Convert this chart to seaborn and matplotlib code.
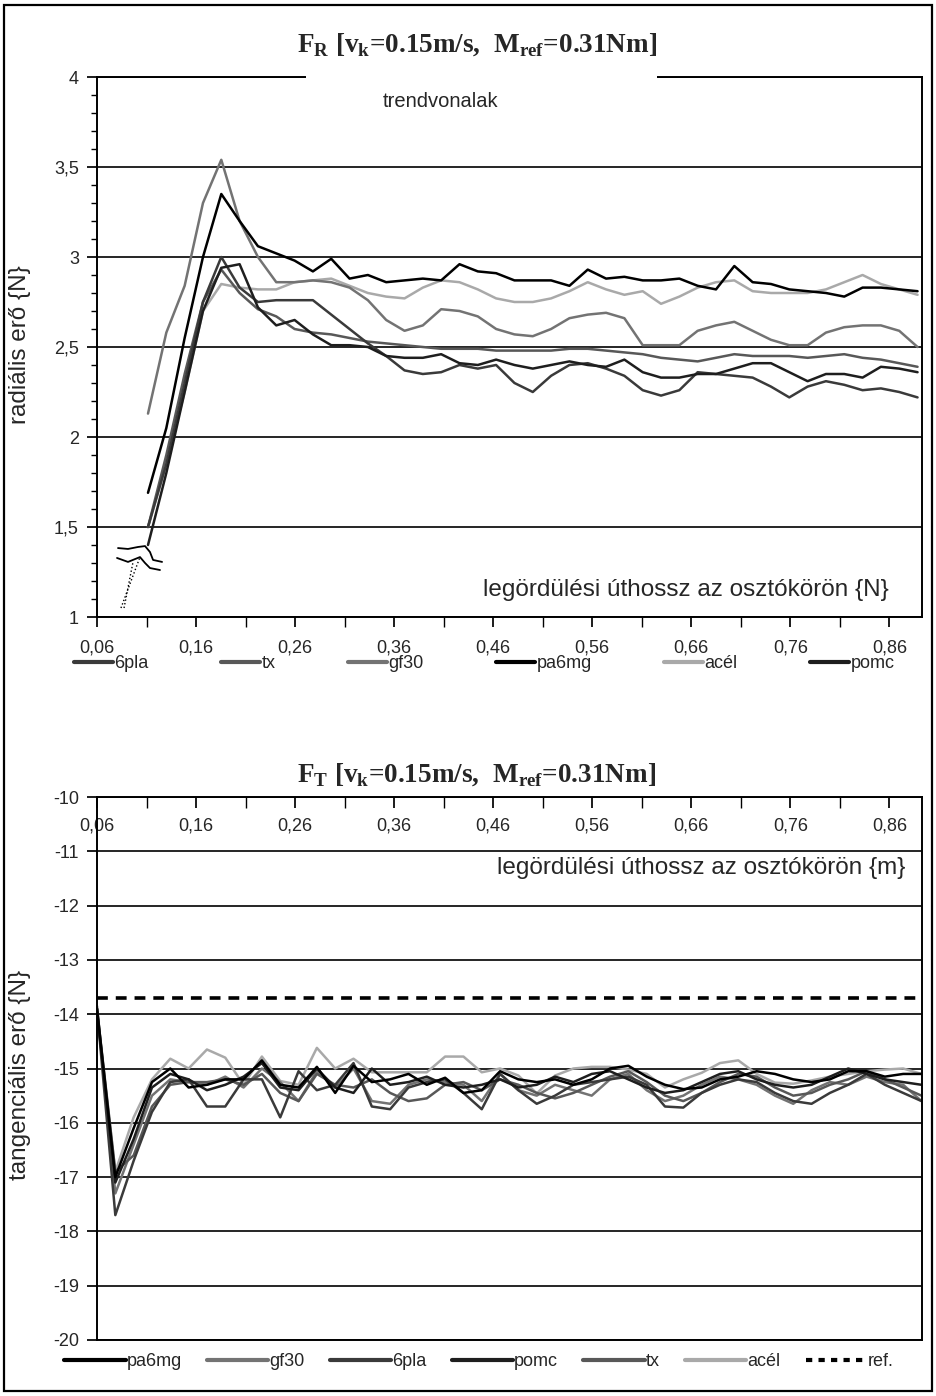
import numpy as np
import pandas as pd
import matplotlib
matplotlib.use("Agg")
import matplotlib.pyplot as plt
import seaborn as sns
from matplotlib.lines import Line2D
from matplotlib.patches import Rectangle
from matplotlib.ticker import MultipleLocator, FixedLocator, FuncFormatter

# x positions (rolling path on pitch circle), upper and lower chart
x_top = np.linspace(0.1115, 0.8885, 43)
x_bot = np.linspace(0.06, 0.8925, 46)

# F_R radial force {N}
fr_6pla = [1.5, 1.85, 2.3, 2.75, 3.0, 2.83, 2.75, 2.76, 2.76, 2.76,
           2.68, 2.6, 2.52, 2.45, 2.37, 2.35, 2.36, 2.4, 2.38, 2.4,
           2.3, 2.25, 2.34, 2.4, 2.41, 2.38, 2.34, 2.26, 2.23, 2.26,
           2.36, 2.35, 2.34, 2.33, 2.28, 2.22, 2.28, 2.31, 2.29, 2.26,
           2.27, 2.25, 2.22]
fr_tx = [1.5, 1.9, 2.35, 2.75, 2.93, 2.8, 2.71, 2.67, 2.6, 2.58,
         2.57, 2.55, 2.53, 2.52, 2.51, 2.5, 2.49, 2.49, 2.49, 2.48,
         2.48, 2.48, 2.48, 2.49, 2.49, 2.48, 2.47, 2.46, 2.44, 2.43,
         2.42, 2.44, 2.46, 2.45, 2.45, 2.45, 2.44, 2.45, 2.46, 2.44,
         2.43, 2.41, 2.39]
fr_gf30 = [2.13, 2.58, 2.84, 3.3, 3.54, 3.2, 3.0, 2.86, 2.86, 2.87,
           2.86, 2.83, 2.76, 2.65, 2.59, 2.62, 2.71, 2.7, 2.67, 2.6,
           2.57, 2.56, 2.6, 2.66, 2.68, 2.69, 2.66, 2.51, 2.51, 2.51,
           2.59, 2.62, 2.64, 2.59, 2.54, 2.51, 2.51, 2.58, 2.61, 2.62,
           2.62, 2.59, 2.5]
fr_pa6mg = [1.69, 2.05, 2.55, 3.0, 3.35, 3.2, 3.06, 3.02, 2.98, 2.92,
            2.99, 2.88, 2.9, 2.86, 2.87, 2.88, 2.87, 2.96, 2.92, 2.91,
            2.87, 2.87, 2.87, 2.84, 2.93, 2.88, 2.89, 2.87, 2.87, 2.88,
            2.84, 2.82, 2.95, 2.86, 2.85, 2.82, 2.81, 2.8, 2.78, 2.83,
            2.83, 2.82, 2.81]
fr_acel = [1.5, 1.85, 2.25, 2.7, 2.85, 2.83, 2.82, 2.82, 2.86, 2.87,
           2.88, 2.84, 2.8, 2.78, 2.77, 2.83, 2.87, 2.86, 2.82, 2.77,
           2.75, 2.75, 2.77, 2.81, 2.86, 2.82, 2.79, 2.81, 2.74, 2.78,
           2.83, 2.86, 2.87, 2.81, 2.8, 2.8, 2.8, 2.82, 2.86, 2.9,
           2.85, 2.82, 2.79]
fr_pomc = [1.4, 1.8, 2.25, 2.7, 2.94, 2.96, 2.72, 2.62, 2.65, 2.57,
           2.51, 2.51, 2.5, 2.45, 2.44, 2.44, 2.46, 2.41, 2.4, 2.43,
           2.4, 2.38, 2.4, 2.42, 2.4, 2.39, 2.43, 2.36, 2.33, 2.33,
           2.35, 2.35, 2.38, 2.41, 2.41, 2.36, 2.31, 2.35, 2.35, 2.33,
           2.39, 2.38, 2.36]

# F_T tangential force {N}
ft_pa6mg = [-13.9, -17.0, -16.1, -15.25, -15.0, -15.35, -15.3, -15.2, -15.2, -14.85,
            -15.3, -15.35, -14.97, -15.45, -14.95, -15.25, -15.2, -15.1, -15.3, -15.17,
            -15.45, -15.4, -15.05, -15.2, -15.25, -15.2, -15.3, -15.2, -15.0, -14.95,
            -15.15, -15.3, -15.38, -15.35, -15.2, -15.15, -15.05, -15.1, -15.2, -15.25,
            -15.2, -15.05, -15.05, -15.15, -15.1, -15.1]
ft_gf30 = [-13.85, -17.3, -16.4, -15.5, -15.2, -15.25, -15.3, -15.15, -15.35, -15.0,
           -15.25, -15.6, -15.05, -15.35, -15.0, -15.6, -15.65, -15.3, -15.2, -15.25,
           -15.3, -15.6, -15.1, -15.4, -15.5, -15.3, -15.4, -15.5, -15.2, -15.1,
           -15.4, -15.6, -15.5, -15.3, -15.15, -15.2, -15.3, -15.5, -15.65, -15.4,
           -15.25, -15.3, -15.15, -15.25, -15.3, -15.6]
ft_6pla = [-13.9, -17.7, -16.7, -15.8, -15.25, -15.2, -15.7, -15.7, -15.2, -15.2,
           -15.9, -15.05, -15.4, -15.3, -14.9, -15.7, -15.75, -15.35, -15.25, -15.2,
           -15.45, -15.75, -15.1, -15.4, -15.65, -15.5, -15.3, -15.25, -15.2, -15.15,
           -15.3, -15.7, -15.72, -15.45, -15.3, -15.2, -15.25, -15.45, -15.6, -15.65,
           -15.45, -15.3, -15.1, -15.3, -15.45, -15.6]
ft_pomc = [-13.95, -17.1, -16.3, -15.35, -15.1, -15.2, -15.4, -15.3, -15.15, -14.9,
           -15.35, -15.4, -15.0, -15.35, -15.45, -15.0, -15.3, -15.25, -15.15, -15.3,
           -15.35, -15.3, -15.2, -15.35, -15.3, -15.15, -15.25, -15.1, -15.05, -15.2,
           -15.35, -15.45, -15.4, -15.25, -15.1, -15.05, -15.2, -15.3, -15.35, -15.3,
           -15.15, -15.0, -15.1, -15.2, -15.25, -15.3]
ft_tx = [-13.9, -16.9, -16.6, -15.7, -15.3, -15.25, -15.25, -15.2, -15.3, -15.1,
         -15.45, -15.6, -15.1, -15.3, -15.35, -15.2, -15.45, -15.6, -15.55, -15.3,
         -15.25, -15.4, -15.2, -15.3, -15.45, -15.55, -15.45, -15.3, -15.15, -15.05,
         -15.25, -15.5, -15.6, -15.45, -15.25, -15.1, -15.15, -15.35, -15.5, -15.45,
         -15.3, -15.2, -15.05, -15.2, -15.35, -15.5]
ft_acel = [-13.95, -16.9, -15.9, -15.2, -14.82, -15.0, -14.65, -14.8, -15.3, -14.78,
           -15.23, -15.3, -14.62, -15.0, -14.82, -15.07, -15.07, -15.07, -15.07, -14.78,
           -14.78, -15.07, -15.0, -15.13, -15.46, -15.13, -15.0, -14.97, -14.97, -15.02,
           -15.1, -15.35, -15.2, -15.08, -14.9, -14.85, -15.1, -15.26, -15.28, -15.22,
           -15.15, -15.1, -15.05, -15.02, -15.0, -15.1]
ft_ref = -13.7

x_ticks = [0.06, 0.16, 0.26, 0.36, 0.46, 0.56, 0.66, 0.76, 0.86]

colors = {"6pla": "#3a3a3a", "tx": "#585858", "gf30": "#737373",
          "pa6mg": "#000000", "acél": "#a9a9a9", "pomc": "#1e1e1e"}
draw_order = ["acél", "gf30", "tx", "6pla", "pomc", "pa6mg"]

top_series = {"6pla": fr_6pla, "tx": fr_tx, "gf30": fr_gf30,
              "pa6mg": fr_pa6mg, "acél": fr_acel, "pomc": fr_pomc}
bot_series = {"pa6mg": ft_pa6mg, "gf30": ft_gf30, "6pla": ft_6pla,
              "pomc": ft_pomc, "tx": ft_tx, "acél": ft_acel}

df_top = pd.concat([pd.DataFrame({"x": x_top, "y": v, "anyag": k}) for k, v in top_series.items()])
df_bot = pd.concat([pd.DataFrame({"x": x_bot, "y": v, "anyag": k}) for k, v in bot_series.items()])

sns.set_theme(style="white")
plt.rcParams["font.family"] = ["Liberation Sans", "DejaVu Sans"]
plt.rcParams["mathtext.fontset"] = "custom"
plt.rcParams["mathtext.rm"] = "Liberation Serif"
plt.rcParams["mathtext.bf"] = "Liberation Serif:bold"
tickfont = ["Liberation Sans", "DejaVu Sans"]
serif = ["Liberation Serif", "DejaVu Serif"]

fig = plt.figure(figsize=(9.37, 13.96), dpi=100)
W, H = 937, 1396

comma2 = FuncFormatter(lambda v, p: f"{v:.2f}".replace(".", ","))
comma1 = FuncFormatter(lambda v, p: f"{v:g}".replace(".", ","))

# ---------------- upper chart: F_R ----------------
ax1 = fig.add_axes([97 / W, 1 - 617 / H, 825 / W, 540 / H])
sns.lineplot(data=df_top, x="x", y="y", hue="anyag", hue_order=draw_order,
             palette=colors, linewidth=1.8, legend=False, estimator=None,
             sort=False, ax=ax1)
ax1.set_xlim(0.06, 0.893)
ax1.set_ylim(1, 4)
ax1.set_xlabel("")
ax1.set_ylabel("")
ax1.yaxis.set_major_locator(MultipleLocator(0.5))
ax1.yaxis.set_minor_locator(MultipleLocator(0.1))
ax1.yaxis.set_major_formatter(comma1)
ax1.xaxis.set_major_locator(FixedLocator(x_ticks))
ax1.xaxis.set_minor_locator(FixedLocator([t + 0.05 for t in x_ticks[:-1]]))
ax1.xaxis.set_major_formatter(comma2)
ax1.tick_params(axis="both", which="both", direction="out", color="black")
ax1.tick_params(axis="x", which="both", length=7, pad=9, bottom=True)
ax1.tick_params(axis="y", which="major", length=7, pad=6, left=True)
ax1.tick_params(axis="y", which="minor", length=4, left=True)
for lab in ax1.get_xticklabels() + ax1.get_yticklabels():
    lab.set_family(tickfont)
    lab.set_fontsize(13)
ax1.grid(axis="y", which="major", color="black", linewidth=1.2)
for s in ax1.spines.values():
    s.set_color("black")
    s.set_linewidth(1.4)
# white gap in the top frame behind the title
ax1.add_patch(Rectangle((0.253, 0.985), 0.426, 0.04, transform=ax1.transAxes,
                        facecolor="white", edgecolor="none", zorder=5, clip_on=False))
ax1.text(0.417, 0.972, "trendvonalak", transform=ax1.transAxes, ha="center",
         va="top", fontsize=14.5, zorder=6)
ax1.text(0.96, 0.05, "legördülési úthossz az osztókörön {N}", transform=ax1.transAxes,
         ha="right", va="center", fontsize=17.5)

# axis break mark near the start of the curves
brk_x1 = [0.0812, 0.0913, 0.1014, 0.1085, 0.1135, 0.1166, 0.1257]
brk_y1 = [1.383, 1.378, 1.389, 1.394, 1.361, 1.317, 1.306]
brk_x2 = [0.0802, 0.0913, 0.1034, 0.1085, 0.1135, 0.1236]
brk_y2 = [1.328, 1.306, 1.333, 1.300, 1.272, 1.261]
ax1.plot(brk_x1, brk_y1, color="black", lw=1.3)
ax1.plot(brk_x2, brk_y2, color="black", lw=1.3)
ax1.plot([0.0842, 0.1034], [1.05, 1.333], color="black", lw=1, ls=":")
ax1.plot([0.0873, 0.0964], [1.05, 1.306], color="black", lw=1, ls=":")

fig.text(20 / W, 1 - 345 / H, "radiális erő {N}", rotation=90, ha="center",
         va="center", fontsize=17.5)
fig.text(477 / W, 1 - 45 / H,
         r"F$_\mathbf{R}$ [v$_\mathbf{k}$=0.15m/s,  M$_\mathbf{ref}$=0.31Nm]",
         ha="center", va="center", fontsize=19.5, family=serif, weight="bold")

top_legend = ["6pla", "tx", "gf30", "pa6mg", "acél", "pomc"]
h1 = [Line2D([], [], color=colors[n], lw=3) for n in top_legend]
fig.legend(h1, top_legend, loc="center", bbox_to_anchor=(484 / W, 1 - 664 / H),
           ncol=6, frameon=False, handlelength=2.2, handletextpad=0.05,
           columnspacing=4.0, prop={"family": tickfont, "size": 13})

# ---------------- lower chart: F_T ----------------
ax2 = fig.add_axes([97 / W, 1 - 1340 / H, 825 / W, 543 / H])
sns.lineplot(data=df_bot, x="x", y="y", hue="anyag", hue_order=draw_order,
             palette=colors, linewidth=1.8, legend=False, estimator=None,
             sort=False, ax=ax2)
ax2.axhline(ft_ref, color="black", lw=2.6, ls=(0, (3, 2.2)), zorder=3)
ax2.set_xlim(0.06, 0.893)
ax2.set_ylim(-20, -10)
ax2.set_xlabel("")
ax2.set_ylabel("")
ax2.yaxis.set_major_locator(MultipleLocator(1))
ax2.yaxis.set_major_formatter(comma1)
ax2.xaxis.set_major_locator(FixedLocator(x_ticks))
ax2.xaxis.set_minor_locator(FixedLocator([t + 0.05 for t in x_ticks[:-1]]))
ax2.xaxis.set_major_formatter(comma2)
ax2.tick_params(axis="x", which="both", top=True, bottom=False, labeltop=True,
                labelbottom=False, direction="in", length=8, pad=-27, color="black")
ax2.tick_params(axis="y", which="major", left=True, direction="out", length=7,
                pad=6, color="black")
for lab in ax2.get_xticklabels() + ax2.get_yticklabels():
    lab.set_family(tickfont)
    lab.set_fontsize(13)
ax2.grid(axis="y", which="major", color="black", linewidth=1.2)
for s in ax2.spines.values():
    s.set_color("black")
    s.set_linewidth(1.4)
ax2.text(0.98, 0.87, "legördülési úthossz az osztókörön {m}", transform=ax2.transAxes,
         ha="right", va="center", fontsize=17.5)

fig.text(20 / W, 1 - 1075 / H, "tangenciális erő {N}", rotation=90, ha="center",
         va="center", fontsize=17.5)
fig.text(477 / W, 1 - 775 / H,
         r"F$_\mathbf{T}$ [v$_\mathbf{k}$=0.15m/s,  M$_\mathbf{ref}$=0.31Nm]",
         ha="center", va="center", fontsize=19.5, family=serif, weight="bold")

bot_legend = ["pa6mg", "gf30", "6pla", "pomc", "tx", "acél"]
h2 = [Line2D([], [], color=colors[n], lw=3) for n in bot_legend]
h2.append(Line2D([], [], color="black", lw=3, ls=(0, (1.5, 1.5))))
fig.legend(h2, bot_legend + ["ref."], loc="center", bbox_to_anchor=(479 / W, 1 - 1362 / H),
           ncol=7, frameon=False, handlelength=3.4, handletextpad=0.05,
           columnspacing=1.4, prop={"family": tickfont, "size": 13})

# outer frame
fig.patches.append(Rectangle((4 / W, 5 / H), 928 / W, 1386 / H, transform=fig.transFigure,
                             fill=False, edgecolor="black", linewidth=1.6))

fig.savefig("out.png", dpi=100)
